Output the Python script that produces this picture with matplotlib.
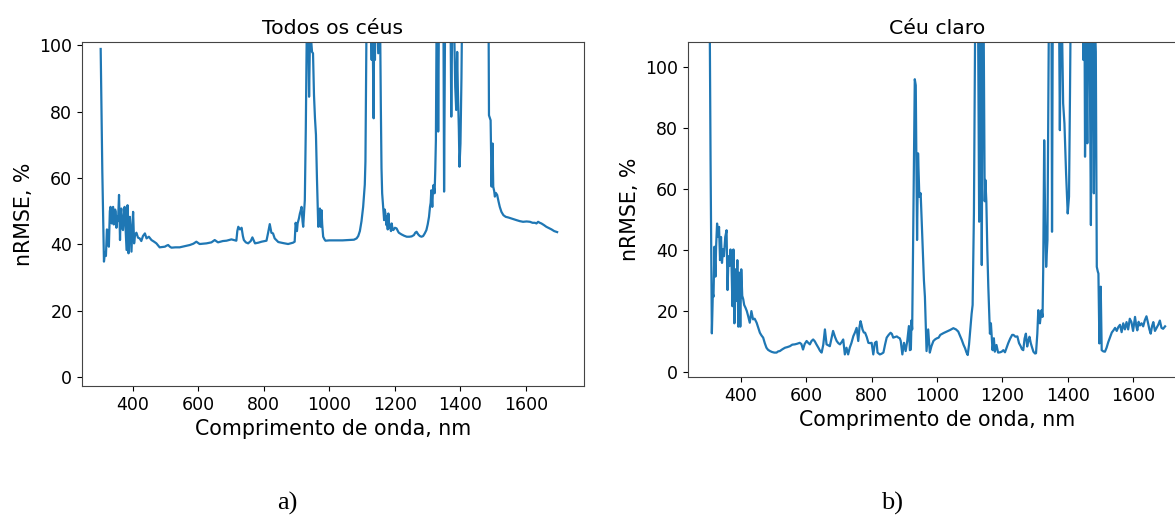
import matplotlib.pyplot as plt

# ---------------------------
# Data
# ---------------------------
titles = ["Todos os céus", "Céu claro"]
captions = ["a)", "b)"]

wl_all = [
    302, 307, 312, 315, 318, 321, 323, 325, 327, 330,
    332, 334, 336, 338, 340, 342, 344, 346, 348, 350,
    352, 355, 358, 361, 363, 365, 368, 370, 373, 375,
    378, 381, 384, 387, 389, 391, 394, 396, 399, 401,
    404, 407, 411, 416, 421, 426, 431, 437, 442, 449,
    457, 465, 472, 482, 490, 498, 503, 508, 513, 518,
    530, 543, 560, 574, 585, 594, 604, 615, 625, 640,
    650, 660, 675, 686, 701, 716, 719, 722, 727, 732,
    736, 739, 745, 752, 760, 765, 769, 773, 783, 793,
    808, 813, 818, 823, 828, 833, 844, 858, 874, 889,
    894, 897, 901, 903, 907, 910, 912, 915, 918, 920,
    923, 925, 928, 931, 934, 936, 938, 941, 944, 947,
    950, 953, 956, 959, 962, 966, 969, 971, 973, 976,
    978, 981, 985, 988, 1000, 1020, 1040, 1060, 1075, 1083,
    1088, 1093, 1098, 1103, 1108, 1110, 1113, 1118, 1123, 1126,
    1129, 1131, 1135, 1137, 1139, 1142, 1146, 1149, 1152, 1155,
    1157, 1159, 1161, 1164, 1167, 1169, 1171, 1174, 1176, 1178,
    1180, 1183, 1185, 1188, 1190, 1193, 1195, 1200, 1205, 1210,
    1212, 1220, 1228, 1236, 1244, 1251, 1258, 1262, 1266, 1271,
    1276, 1281, 1286, 1291, 1296, 1300, 1304, 1307, 1309, 1311,
    1314, 1316, 1318, 1321, 1323, 1325, 1327, 1330, 1332, 1335,
    1340, 1345, 1348, 1350, 1353, 1356, 1362, 1368, 1372, 1376,
    1380, 1384, 1387, 1390, 1392, 1395, 1397, 1400, 1403, 1406,
    1415, 1430, 1450, 1470, 1484, 1487, 1490, 1492, 1494, 1495,
    1497, 1498, 1500, 1503, 1505, 1508, 1512, 1516, 1520, 1525,
    1531, 1538, 1546, 1558, 1571, 1581, 1591, 1602, 1612, 1620,
    1627, 1632, 1637, 1642, 1647, 1655, 1662, 1670, 1678, 1686,
    1695,
]
nrmse_all = [
    98.9, 62, 34.8, 37.5, 36.5, 44.5, 44.3, 40, 39.3, 50,
    51.3, 47, 46.3, 51, 51.3, 46, 47.3, 50.5, 49.8, 45,
    48.3, 47, 54.9, 41.3, 49, 50.8, 45, 44.3, 49, 51.3,
    45, 38.3, 51.8, 37.3, 45, 48.3, 42, 37.8, 46, 49.8,
    40.3, 43, 43.5, 42, 41.8, 41, 42.5, 43.3, 41.8, 42.3,
    41.3, 40.8, 40.3, 39.1, 39.2, 39.3, 39.6, 39.8, 39.3, 39.0,
    39.1, 39.1, 39.5, 39.8, 40.2, 40.8, 40.1, 40.2, 40.3, 40.6,
    41.3, 40.6, 41.0, 41.1, 41.5, 41.1, 44, 45.3, 44.5, 45.0,
    42.5, 41.3, 40.6, 40.3, 41, 42.1, 41.2, 40.3, 40.5, 40.8,
    41.1, 43.5, 46.1, 43.5, 43.3, 41.8, 40.7, 40.4, 40.1, 40.5,
    40.8, 46.5, 44, 46.3, 47.8, 49.3, 50, 51.3, 47, 45.3,
    50, 53.3, 75, 105, 108, 102, 84.5, 104, 102, 98,
    97.6, 85, 78, 73, 60, 45.3, 48, 50.8, 45.3, 50.3,
    46, 42.3, 41.5, 41.1, 41.2, 41.2, 41.2, 41.3, 41.4, 41.8,
    42.5, 44, 47, 51.3, 58, 65, 103, 130, 120, 110,
    95.6, 112, 78, 115, 95.6, 125, 110, 97.6, 115, 104,
    81.5, 63, 55.4, 51.3, 47.3, 50.5, 49.3, 45.8, 48.5, 44.5,
    49.3, 45, 45.3, 44, 46.3, 44.5, 44.3, 45, 44.8, 43.8,
    43.5, 43.0, 42.6, 42.3, 42.3, 42.4, 42.8, 43.5, 43.8, 43.0,
    42.5, 42.3, 42.5, 43.3, 44.3, 46, 48.3, 51.3, 52.5, 56.3,
    51.3, 56, 57.9, 55.4, 62, 71.4, 105, 115, 74.0, 120,
    140, 125, 110, 55.9, 110, 140, 150, 130, 78.5, 120,
    110, 87.5, 80.5, 98, 87, 75, 63.4, 70.4, 90, 120,
    180, 220, 250, 200, 150, 78.9, 78, 77.4, 65, 57.4,
    68, 70.4, 57.4, 56, 54.4, 55.5, 54.9, 53, 51.3, 49.8,
    48.8, 48.3, 48.1, 47.7, 47.3, 47.0, 46.8, 46.9, 46.8, 46.5,
    46.5, 46.3, 46.8, 46.5, 46.3, 45.8, 45.3, 44.9, 44.5, 44.0,
    43.7,
]

wl_clear = [
    302, 307, 311, 314, 316, 319, 322, 324, 327, 330,
    333, 336, 339, 342, 345, 348, 352, 356, 359, 362,
    365, 368, 371, 374, 377, 380, 383, 386, 389, 392,
    395, 398, 401, 404, 407, 410, 414, 418, 422, 427,
    432, 437, 442, 448, 453, 458, 463, 468, 473, 478,
    483, 489, 495, 502, 509, 514, 519, 527, 535, 542,
    550, 557, 565, 572, 580, 585, 590, 595, 601, 606,
    611, 616, 621, 626, 631, 637, 642, 647, 652, 657,
    662, 667, 672, 677, 682, 688, 693, 698, 703, 708,
    713, 718, 723, 728, 733, 738, 744, 749, 754, 759,
    763, 766, 769, 772, 776, 780, 785, 790, 795, 800,
    805, 810, 815, 818, 825, 830, 836, 841, 846, 852,
    858, 862, 866, 872, 877, 882, 886, 889, 894, 899,
    904, 909, 914, 917, 920, 922, 924, 927, 932, 935,
    939, 942, 946, 950, 956, 960, 963, 966, 968, 973,
    978, 983, 989, 995, 1000, 1005, 1010, 1020, 1030, 1040,
    1050, 1058, 1065, 1070, 1076, 1081, 1086, 1090, 1094, 1098,
    1102, 1106, 1109, 1113, 1117, 1120, 1123, 1126, 1129, 1132,
    1135, 1137, 1140, 1143, 1146, 1148, 1151, 1154, 1157, 1162,
    1165, 1170, 1174, 1177, 1182, 1187, 1193, 1198, 1203, 1208,
    1213, 1218, 1224, 1230, 1234, 1240, 1246, 1251, 1256, 1260,
    1264, 1268, 1272, 1276, 1280, 1283, 1287, 1290, 1295, 1300,
    1303, 1307, 1310, 1313, 1315, 1318, 1320, 1323, 1325, 1328,
    1331, 1334, 1338, 1342, 1346, 1350, 1352, 1355, 1362, 1370,
    1374, 1376, 1379, 1383, 1386, 1390, 1395, 1400, 1404, 1407,
    1410, 1420, 1435, 1445, 1448, 1451, 1453, 1456, 1460, 1463,
    1467, 1471, 1474, 1477, 1480, 1483, 1486, 1489, 1492, 1494,
    1497, 1501, 1504, 1509, 1514, 1519, 1524, 1530, 1535, 1540,
    1545, 1550, 1555, 1560, 1565, 1570, 1575, 1580, 1585, 1590,
    1595, 1600, 1606, 1610, 1613, 1617, 1621, 1626, 1631, 1636,
    1641, 1645, 1650, 1654, 1658, 1662, 1667, 1672, 1677, 1682,
    1687, 1692, 1698,
]
nrmse_clear = [
    160, 70, 12.7, 25.8, 24.7, 41.1, 31.3, 41.1, 48.7, 44.3,
    47.6, 36.7, 44.3, 35.8, 40.2, 38.0, 44.3, 46.5, 26.9, 38.0,
    34.8, 40.2, 35.8, 21.6, 40.2, 16.0, 33.7, 23.3, 36.7, 14.9,
    32.6, 14.9, 33.7, 25, 23.9, 22, 21.1, 20.0, 18.4, 16.2,
    20.0, 17.3, 17.5, 16.2, 14.5, 12.9, 12.0, 11.3, 9.5, 8.0,
    7.3, 6.9, 6.6, 6.4, 6.4, 6.8, 6.9, 7.5, 8.0, 8.2,
    8.5, 9.0, 9.1, 9.3, 9.6, 9.2, 7.4, 9.2, 10.2, 9.6,
    9.1, 10.2, 10.7, 10.1, 9.1, 8.0, 7.0, 6.4, 9, 14.0,
    9.1, 8.8, 8.5, 11, 13.5, 11.5, 10.2, 9.5, 9.1, 9.8,
    10.7, 5.8, 8.0, 5.8, 8.0, 9.5, 11.8, 13, 14.5, 10.2,
    15, 16.7, 15.5, 14.0, 13, 12.9, 11.5, 9.6, 9.5, 9.6,
    5.8, 9.6, 10, 6.4, 5.8, 6.0, 6.4, 9, 11.3, 12.2,
    12.9, 12.5, 11.3, 11.5, 11.7, 11.3, 11.1, 10.2, 5.8, 9.6,
    6.9, 10.2, 15.1, 7.2, 7.4, 17, 14.0, 43.3, 96, 94,
    43.3, 71.7, 57.5, 58.6, 41.1, 30, 24.7, 13.9, 6.9, 14.0,
    6.4, 8.5, 10.2, 10.8, 11.1, 11.3, 12.2, 12.8, 13.3, 13.8,
    14.4, 14.0, 13.3, 12, 10.5, 9, 7.8, 6.5, 5.6, 9,
    13.9, 19.2, 22, 52, 120, 150, 130, 110, 49.3, 140,
    110, 35.1, 130, 110, 56, 63, 56, 40, 28, 12.6,
    16.0, 7.2, 11.1, 6.7, 8.9, 6.4, 6.5, 6.7, 7.2, 6.5,
    8, 9.5, 11, 12.2, 12.2, 11.6, 11.7, 9.5, 8.5, 7.5,
    7.2, 11, 12.6, 8.4, 10.5, 11.6, 9.5, 8.4, 6.7, 6.1,
    6.2, 12.6, 20.3, 17, 16.0, 19, 20.3, 18.1, 33.4, 76,
    50, 34.5, 43.3, 110, 150, 130, 46.0, 140, 170, 140,
    110, 79.3, 120, 110, 88.1, 81.5, 65.1, 52, 57.5, 91.3,
    130, 200, 220, 150, 102.3, 130, 70.6, 120, 75, 130,
    110, 48.2, 120, 130, 58.6, 115, 105, 34.5, 33, 32.3,
    9.4, 28, 7.2, 6.8, 6.7, 8, 9.8, 11.5, 13, 13.7,
    14.5, 13.5, 14.8, 15.5, 13.1, 16, 14, 16.4, 14, 17.5,
    16.4, 13.5, 18.1, 15, 13.7, 16.5, 15.3, 16, 15, 17,
    18.3, 16.5, 14, 12.6, 15, 16.4, 13.5, 14.5, 15.5, 16.9,
    14.5, 14.2, 15.0,
]

# ---------------------------
# Figure
# ---------------------------
W, H = 1175, 516
fig = plt.figure(figsize=(W / 100, H / 100), dpi=100)

def px_axes(left, top, right, bottom):
    return fig.add_axes([left / W, (H - bottom) / H, (right - left) / W, (bottom - top) / H])

ax1 = px_axes(82, 42, 584, 386)
ax2 = px_axes(688, 42, 1186, 377)   # runs past the right edge, as in the reference

panels = [
    (ax1, wl_all, nrmse_all, (245, 1777), (-2.7, 101)),
    (ax2, wl_clear, nrmse_clear, (238, 1762), (-1.6, 108.2)),
]

for i, (ax, wl, vals, xlim, ylim) in enumerate(panels):
    ax.plot(wl, vals, color="#1f77b4", linewidth=1.6)
    ax.set_xlim(*xlim)
    ax.set_ylim(*ylim)
    ax.set_xticks([400, 600, 800, 1000, 1200, 1400, 1600])
    ax.set_yticks([0, 20, 40, 60, 80, 100])
    ax.tick_params(labelsize=12.5)
    for s in ax.spines.values():
        s.set_color("#444444")
    ax.set_title(titles[i], fontsize=14.7)
    ax.set_xlabel("Comprimento de onda, nm", fontsize=14.8)
    ax.set_ylabel("nRMSE, %", fontsize=14.8)

fig.text(287 / W, 1 - 503 / H, captions[0], fontsize=19, family="Liberation Serif",
         ha="center", va="center")
fig.text(892 / W, 1 - 503 / H, captions[1], fontsize=19, family="Liberation Serif",
         ha="center", va="center")

plt.savefig("out.png", dpi=100)
